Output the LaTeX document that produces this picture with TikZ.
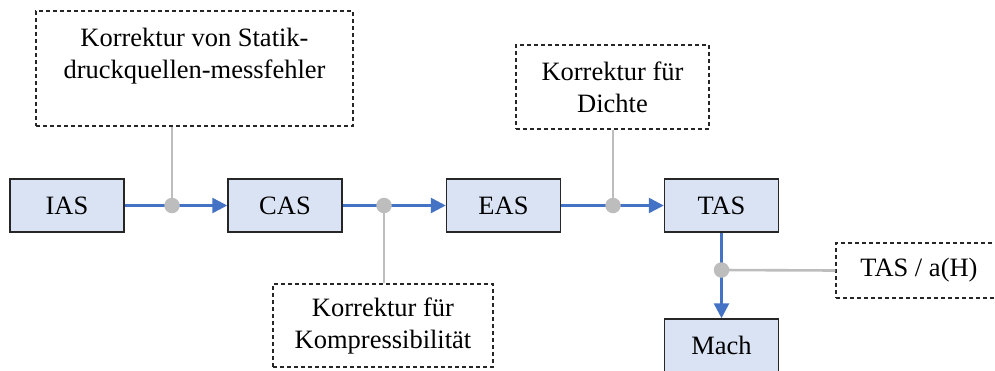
\documentclass[tikz,border=0pt]{standalone}
\usepackage{fontspec}
\setmainfont{Liberation Serif}
\usetikzlibrary{arrows.meta}
\definecolor{boxfill}{HTML}{DAE3F3}
\definecolor{flow}{HTML}{4472C4}
\definecolor{tap}{HTML}{BDBDBD}
\begin{document}
\begin{tikzpicture}[x=1pt,y=-1pt,font=\fontsize{26.5}{32}\selectfont,
  blk/.style={draw=black!85,line width=1.5pt,fill=boxfill,minimum width=114pt,minimum height=53pt,inner sep=0pt},
  note/.style={draw=black!85,dash pattern=on 4pt off 3pt,line width=1.3pt,inner sep=0pt,align=center},
  flowarr/.style={draw=flow,line width=2.6pt,-{Triangle[length=15pt,width=15pt]}},
  tapline/.style={draw=tap,line width=2.6pt},
  jdot/.style={circle,fill=tap,inner sep=0pt,minimum size=15.5pt}]
\useasboundingbox (0,0) rectangle (995,370);
% main blocks
\node[blk] (ias) at (67,205.5) {IAS};
\node[blk] (cas) at (285,205.5) {CAS};
\node[blk] (eas) at (503.5,205.5) {EAS};
\node[blk] (tas) at (721.5,205.5) {TAS};
\node[blk] (mach) at (721.5,345.5) {Mach};
% notes
\node[note,minimum width=317pt,minimum height=115pt] (stat) at (194.5,68.5) {};
\node[align=center,inner sep=0pt] (stattext) at (194.5,56) {Korrektur von Statik-\\druckquellen-messfehler};
\node[note,minimum width=193pt,minimum height=84pt] (dichte) at (612.5,87) {Korrektur für\\Dichte};
\node[note,minimum width=220pt,minimum height=83pt] (komp) at (383,325.5) {Korrektur für\\Kompressibilität};
\node[note,minimum width=166pt,minimum height=55pt] (tasa) at (919,270.5) {TAS / a(H)};
% junctions
\coordinate (j1) at (172,205.5);
\coordinate (j2) at (384,205.5);
\coordinate (j3) at (613,205.5);
\coordinate (j4) at (721.5,270);
% flow
\draw[flowarr] (ias) -- (cas);
\draw[flowarr] (cas) -- (eas);
\draw[flowarr] (eas) -- (tas);
\draw[flowarr] (tas) -- (mach);
% taps
\draw[tapline] (j1) -- (j1 |- stat.south);
\draw[tapline] (j2) -- (j2 |- komp.north);
\draw[tapline] (j3) -- (j3 |- dichte.south);
\draw[tapline] (j4) -- (tasa.west);
\node[jdot] (d1) at (j1) {};
\node[jdot] (d2) at (j2) {};
\node[jdot] (d3) at (j3) {};
\node[jdot] (d4) at (j4) {};
\end{tikzpicture}
\end{document}
